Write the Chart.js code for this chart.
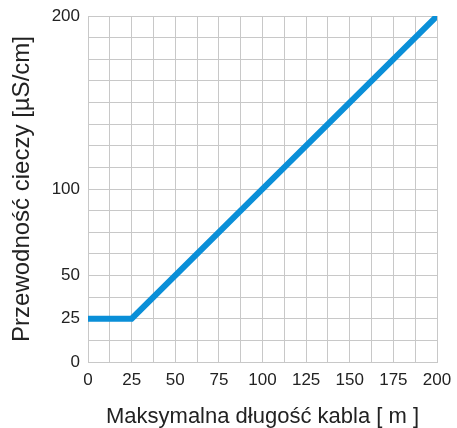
<!DOCTYPE html>
<html>
<head>
<meta charset="utf-8">
<script src="https://cdn.jsdelivr.net/npm/chart.js@4"></script>
<style>
	html, body { margin: 0; padding: 0; background: #fff; }
	#box { width: 457px; height: 428px; }
</style>
</head>
<body>
<div id="box"><canvas id="myChart"></canvas></div>
<script>
// cable length [m] vs liquid conductivity [µS/cm]
const xValues = [0, 25, 200]
const yValues = [25, 25, 200]

const xLabels = [0, 25, 50, 75, 100, 125, 150, 175, 200]
const yLabels = [0, 25, 50, 100, 200]

const points = xValues.map((x, i) => ({ x: x, y: yValues[i] }))

const gridColor = "rgb(200, 200, 200)"
const textColor = "rgb(34, 34, 34)"
const font = "'Liberation Sans', Arial, sans-serif"

new Chart("myChart", {
	type: "scatter",
	data: {
		datasets: [{
			data: points,
			showLine: true,
			borderColor: "rgb(10, 143, 216)",
			borderWidth: 6,
			pointRadius: 0,
			borderCapStyle: "butt",
			borderJoinStyle: "miter"
		}]
	},
	options: {
		responsive: true,
		maintainAspectRatio: false,
		animation: false,
		layout: { padding: { top: 16, right: 20, left: 0, bottom: 0 } },
		plugins: {
			legend: { display: false },
			tooltip: { enabled: false }
		},
		scales: {
			x: {
				type: "linear",
				min: 0,
				max: 200,
				grid: { color: gridColor, drawTicks: false },
				border: { color: gridColor },
				ticks: {
					stepSize: 12.5,
					padding: 8,
					autoSkip: false,
					maxRotation: 0,
					color: textColor,
					font: { family: font, size: 17 },
					callback: v => xLabels.includes(v) ? String(v) : ""
				},
				title: {
					display: true,
					text: "Maksymalna długość kabla [ m ]",
					color: textColor,
					font: { family: font, size: 22, lineHeight: 1 },
					padding: { top: 0, bottom: 0 }
				},
				afterFit: s => {
					s.height = 66
					s.paddingLeft = 0
					s.paddingRight = 0
				}
			},
			y: {
				type: "linear",
				min: 0,
				max: 200,
				grid: { color: gridColor, drawTicks: false },
				border: { color: gridColor },
				ticks: {
					stepSize: 12.5,
					padding: 8,
					autoSkip: false,
					color: textColor,
					font: { family: font, size: 17 },
					callback: v => yLabels.includes(v) ? String(v) : ""
				},
				title: {
					display: true,
					text: "Przewodność cieczy [µS/cm]",
					color: textColor,
					font: { family: font, size: 24, lineHeight: 1 },
					padding: { top: 10, bottom: 0 }
				},
				afterFit: s => {
					s.width = 88
					s.paddingTop = 0
					s.paddingBottom = 0
				}
			}
		}
	}
})
</script>
</body>
</html>
